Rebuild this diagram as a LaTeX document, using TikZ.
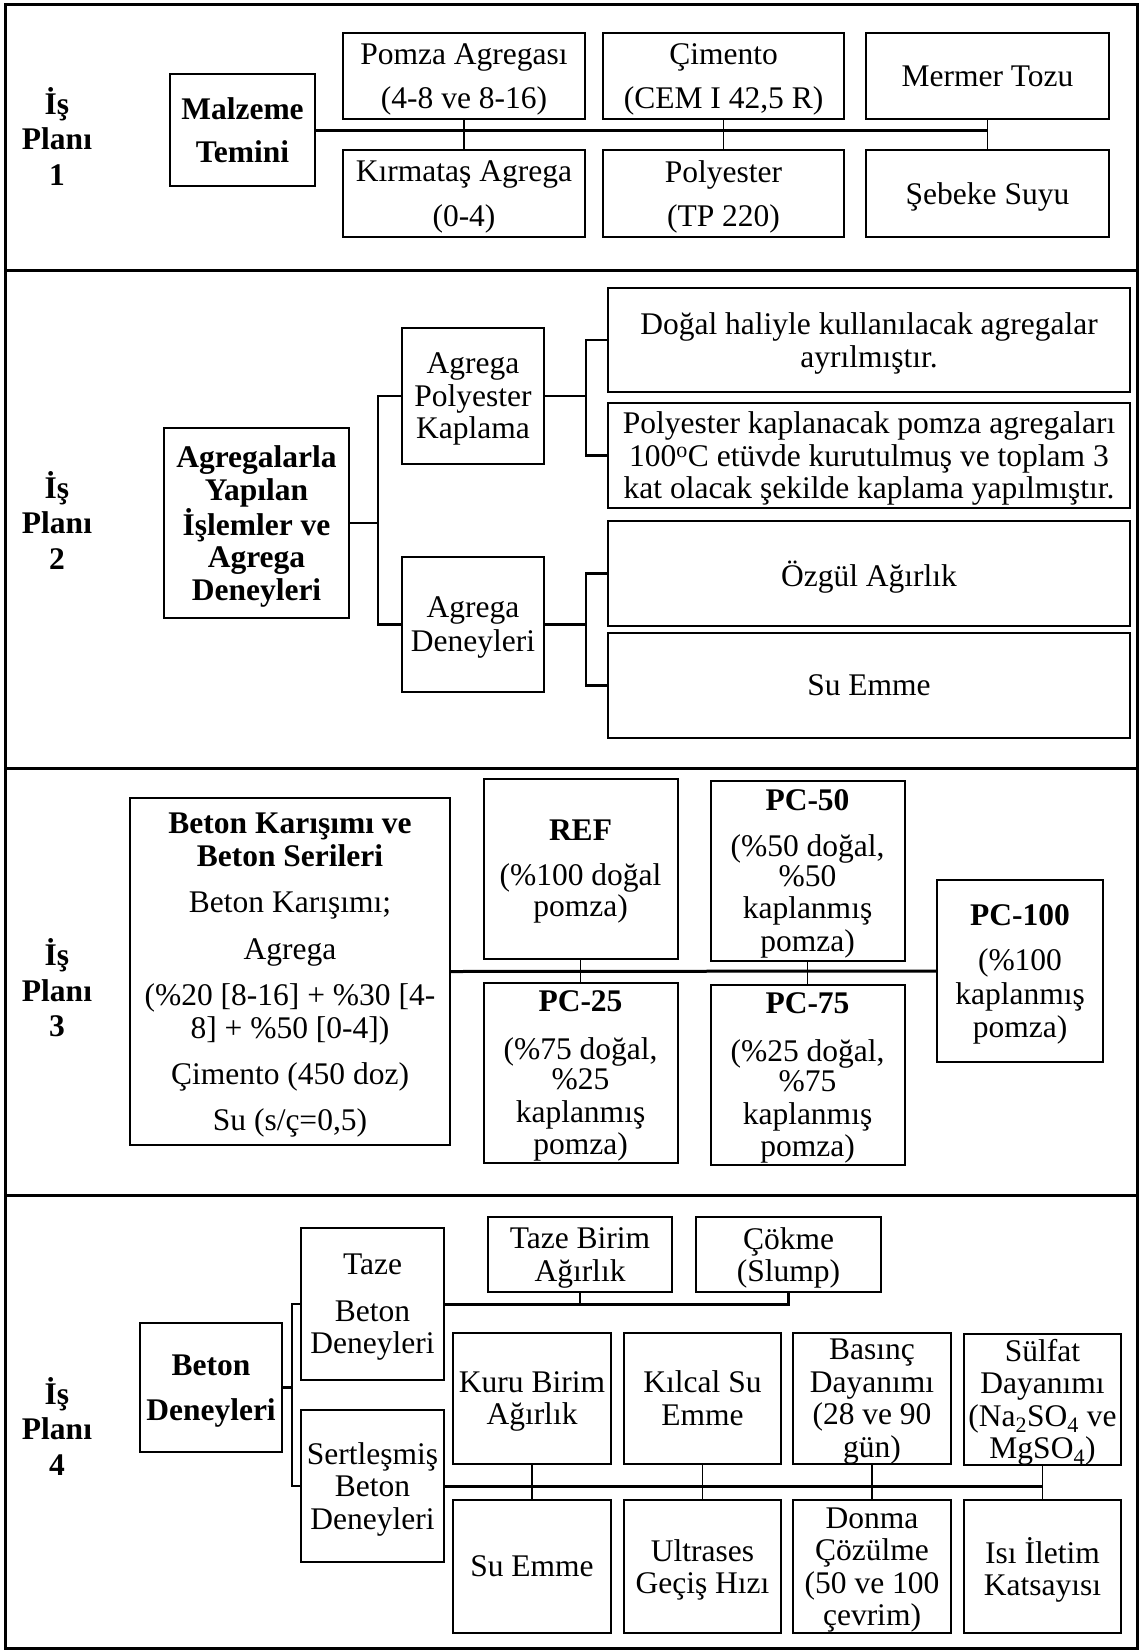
\documentclass[tikz,border=0pt]{standalone}
\usepackage{fontspec}
\setmainfont{Liberation Serif}
\newcommand\myfs{\fontsize{31.5}{32.5}\selectfont}
\begin{document}
\begin{tikzpicture}[x=1pt,y=-1pt,
  box/.style={draw, line width=2pt, align=center, inner sep=0pt, outer sep=0pt, font=\myfs, text depth=0pt},
  bbox/.style={box, font=\myfs\bfseries},
  plan/.style={align=center, inner sep=0pt, font=\myfs\bfseries},
  bus/.style={line width=3pt},
  tick/.style={line width=1.3pt},
  conn/.style={line width=2.4pt},
  frame/.style={line width=3pt}]
\useasboundingbox (0,0) rectangle (1141,1652);
% frame
\draw[frame] (5,4) rectangle (1137,1648);
\draw[frame] (5,270) -- (1137,270);
\draw[frame] (5,768) -- (1137,768);
\draw[frame] (5,1195) -- (1137,1195);

% ---------- Section 1
\node[plan] (p1) at (57,136) {İş\\[3pt]Planı\\[3pt]1};
\node[bbox, minimum width=145, minimum height=112] (malz) at (242.5,130) {Malzeme\\[10.5pt]Temini};
\node[box, minimum width=242, minimum height=86] (pomza) at (464,76) {Pomza Agregası\\[11.5pt](4-8 ve 8-16)};
\node[box, minimum width=241, minimum height=86] (cim) at (723.5,76) {Çimento\\[11.5pt](CEM I 42,5 R)};
\node[box, minimum width=243, minimum height=86] (mermer) at (987.5,76) {Mermer Tozu};
\node[box, minimum width=242, minimum height=87] (kirm) at (464,193.5) {Kırmataş Agrega\\[12pt](0-4)};
\node[box, minimum width=241, minimum height=87] (poly) at (723.5,193.5) {Polyester\\[12pt](TP 220)};
\node[box, minimum width=243, minimum height=87] (sebeke) at (987.5,193.5) {Şebeke Suyu};
\draw[bus] (malz.east) -- (mermer.south |- malz.east);
\draw[tick] (pomza.south) -- (kirm.north);
\draw[tick] (cim.south) -- (poly.north);
\draw[tick] (mermer.south) -- (sebeke.north);

% ---------- Section 2
\node[plan] (p2) at (57,520) {İş\\[3pt]Planı\\[3pt]2};
\node[bbox, minimum width=185, minimum height=190] (agr) at (256.5,523) {Agregalarla\\Yapılan\\İşlemler ve\\Agrega\\Deneyleri};
\node[box, minimum width=142, minimum height=136] (kap) at (473,396) {Agrega\\Polyester\\Kaplama};
\node[box, minimum width=142, minimum height=135] (den) at (473,624.5) {Agrega\\[1.5pt]Deneyleri};
\node[box, minimum width=522, minimum height=104] (dogal) at (869,340) {Doğal haliyle kullanılacak agregalar\\ayrılmıştır.};
\node[box, minimum width=522, minimum height=105] (polyk) at (869,455.5) {Polyester kaplanacak pomza agregaları\\100\textsuperscript{o}C etüvde kurutulmuş ve toplam 3\\kat olacak şekilde kaplama yapılmıştır.};
\node[box, minimum width=522, minimum height=105] (ozgul) at (869,573.5) {Özgül Ağırlık};
\node[box, minimum width=522, minimum height=105] (suem) at (869,685.5) {Su Emme};
\coordinate (j1) at (378,523);
\draw[conn] (agr.east) -- (j1);
\draw[conn] (kap.west) -- (kap.west -| j1) -- (den.west -| j1) -- (den.west);
\coordinate (j2) at (586,396);
\draw[conn] (kap.east) -- (j2);
\draw[conn] (dogal.west) -- (dogal.west -| j2) -- (polyk.west -| j2) -- (polyk.west);
\coordinate (j3) at (586,624.5);
\draw[conn] (den.east) -- (j3);
\draw[conn] (ozgul.west) -- (ozgul.west -| j3) -- (suem.west -| j3) -- (suem.west);

% ---------- Section 3
\node[plan] (p3) at (57,988) {İş\\[3pt]Planı\\[3pt]3};
\node[box, minimum width=320, minimum height=347] (bk) at (290,971.5) {{\bfseries Beton Karışımı ve}\\{\bfseries Beton Serileri}\\[14pt]Beton Karışımı;\\[14pt]Agrega\\[14pt](\%20 [8-16] + \%30 [4-\\8] + \%50 [0-4])\\[14pt]Çimento (450 doz)\\[13pt]Su (s/ç=0,5)};
\node[box, minimum width=194, minimum height=180] (ref) at (580.5,868.5) {{\bfseries REF}\\[12pt](\%100 doğal\\[-1pt]pomza)};
\node[box, minimum width=194, minimum height=180] (pc50) at (807.5,870.5) {{\bfseries PC-50}\\[14pt](\%50 doğal,\\[-3pt]\%50\\kaplanmış\\pomza)};
\node[box, minimum width=194, minimum height=180] (pc25) at (580.5,1073) {{\bfseries PC-25}\\[15pt](\%75 doğal,\\[-2pt]\%25\\kaplanmış\\pomza)};
\node[box, minimum width=194, minimum height=180] (pc75) at (807.5,1075) {{\bfseries PC-75}\\[15pt](\%25 doğal,\\[-2pt]\%75\\kaplanmış\\pomza)};
\node[box, minimum width=166, minimum height=182] (pc100) at (1020,971) {{\bfseries PC-100}\\[12pt](\%100\\[2pt]kaplanmış\\pomza)};
\draw[bus] (bk.east) -- (pc100.west);
\draw[tick] (ref.south) -- (pc25.north);
\draw[tick] (pc50.south) -- (pc75.north);

% ---------- Section 4
\node[plan] (p4) at (57,1426) {İş\\[3pt]Planı\\[3pt]4};
\node[bbox, minimum width=142, minimum height=129] (bd) at (211,1387.5) {Beton\\[12pt]Deneyleri};
\node[box, minimum width=143, minimum height=152] (taze) at (372.5,1304) {Taze\\[14pt]Beton\\Deneyleri};
\node[box, minimum width=143, minimum height=152] (sert) at (372.5,1486) {Sertleşmiş\\Beton\\Deneyleri};
\coordinate (j4) at (292,1387.5);
\draw[conn] (bd.east) -- (j4);
\draw[conn] (taze.west) -- (taze.west -| j4) -- (sert.west -| j4) -- (sert.west);
\node[box, minimum width=184, minimum height=75] (tba) at (580,1254.5) {Taze Birim\\Ağırlık};
\node[box, minimum width=185, minimum height=75] (cokme) at (788.5,1254.5) {Çökme\\(Slump)};
\draw[bus] (taze.east) -- (cokme.south |- taze.east) -- (cokme.south);
\draw[tick] (tba.south) -- (tba.south |- taze.east);

\node[box, minimum width=158, minimum height=131] (kuru) at (532,1398) {Kuru Birim\\Ağırlık};
\node[box, minimum width=157, minimum height=131] (kilcal) at (702.5,1398) {Kılcal Su\\Emme};
\node[box, minimum width=158, minimum height=131] (basinc) at (872,1398) {Basınç\\Dayanımı\\(28 ve 90\\gün)};
\node[box, minimum width=157, minimum height=131] (sulfat) at (1042.5,1399) {Sülfat\\Dayanımı\\(Na\textsubscript{2}SO\textsubscript{4} ve\\MgSO\textsubscript{4})};
\node[box, minimum width=158, minimum height=133] (suem2) at (532,1566.5) {Su Emme};
\node[box, minimum width=157, minimum height=133] (ultra) at (702.5,1566.5) {Ultrases\\Geçiş Hızı};
\node[box, minimum width=158, minimum height=133] (donma) at (872,1566.5) {Donma\\Çözülme\\(50 ve 100\\çevrim)};
\node[box, minimum width=157, minimum height=133] (isi) at (1042.5,1566.5) {Isı İletim\\Katsayısı};
\draw[bus] (sert.east) -- (sulfat.south |- sert.east);
\draw[tick] (kuru.south) -- (suem2.north);
\draw[tick] (kilcal.south) -- (ultra.north);
\draw[tick] (basinc.south) -- (donma.north);
\draw[tick] (sulfat.south) -- (isi.north);
\end{tikzpicture}
\end{document}
